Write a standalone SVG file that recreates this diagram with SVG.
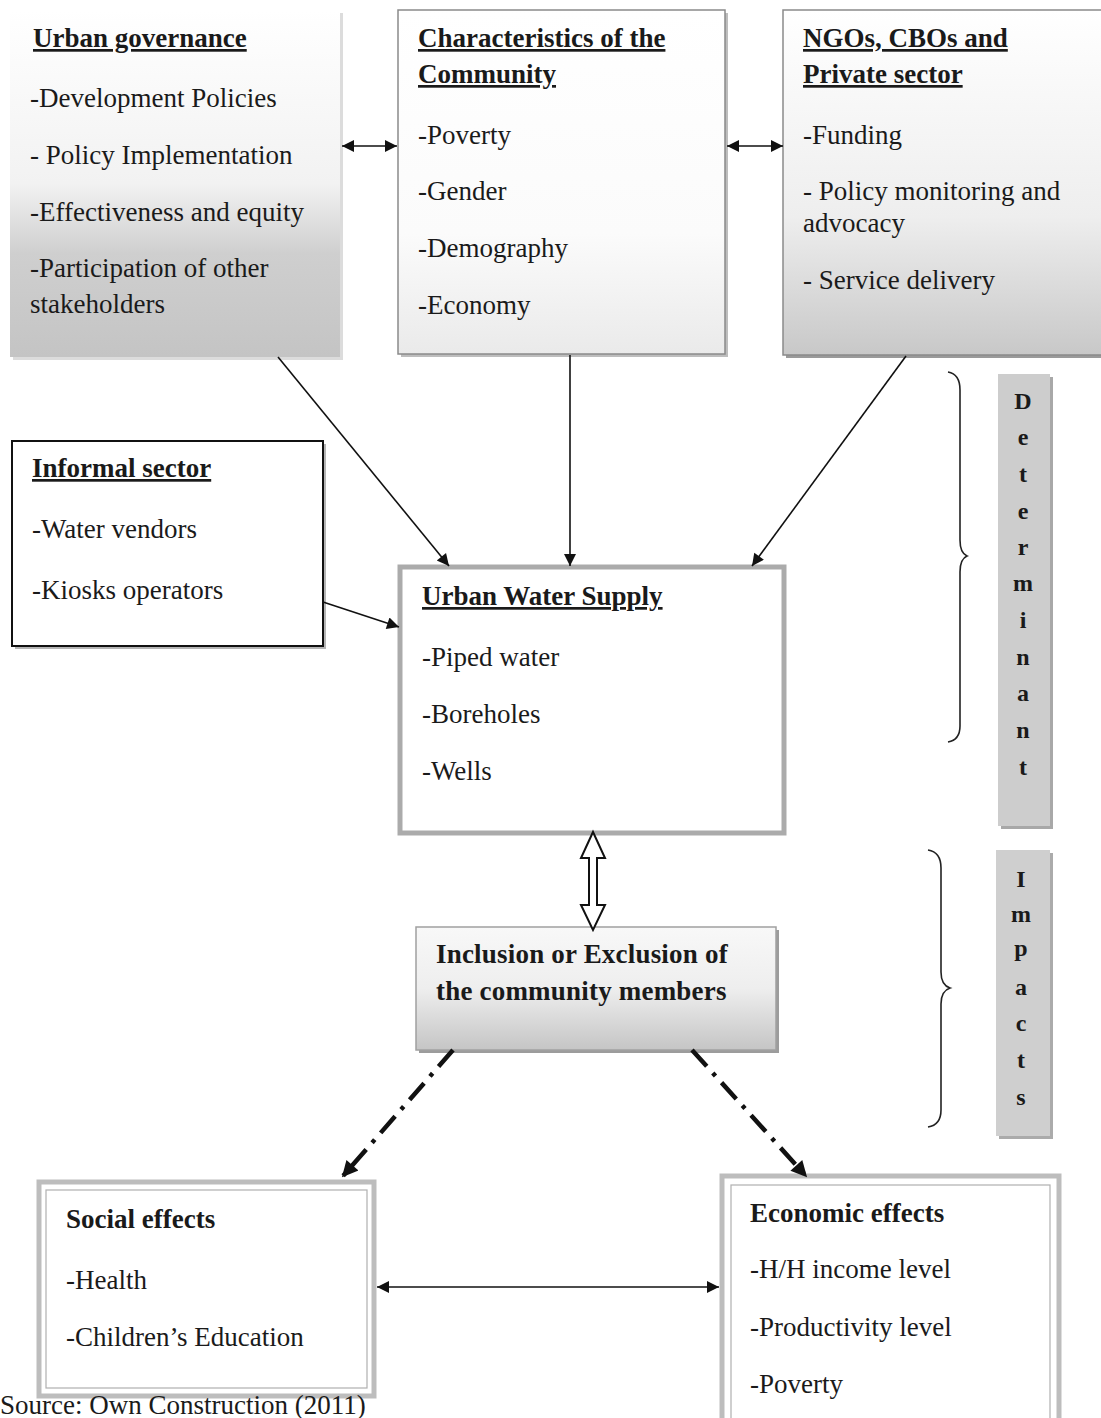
<svg xmlns="http://www.w3.org/2000/svg" width="1101" height="1418" viewBox="0 0 1101 1418">
<style>
text{font-family:"Liberation Serif","Times New Roman",serif;font-size:27px;fill:#1a1a1a}
.h{font-weight:bold;text-decoration:underline}
.b{font-weight:bold}
.v{font-weight:bold;font-size:24px;text-anchor:middle}
.c{stroke:#111;stroke-width:1.6;fill:none}
.dd{stroke:#111;stroke-width:4.5;fill:none;stroke-dasharray:22 9 4 9}
.br{stroke:#222;stroke-width:1.6;fill:none}
</style>
<defs>
<linearGradient id="gUG" x1="0" y1="0" x2="0" y2="1"><stop offset="0" stop-color="#ffffff"/><stop offset="0.5" stop-color="#f2f2f2"/><stop offset="0.7" stop-color="#cfcfcf"/><stop offset="1" stop-color="#c4c4c4"/></linearGradient>
<linearGradient id="gCH" x1="0" y1="0" x2="0" y2="1"><stop offset="0" stop-color="#ffffff"/><stop offset="0.65" stop-color="#fbfbfb"/><stop offset="1" stop-color="#eaeaea"/></linearGradient>
<linearGradient id="gNG" x1="0" y1="0" x2="0" y2="1"><stop offset="0" stop-color="#ffffff"/><stop offset="0.6" stop-color="#eeeeee"/><stop offset="1" stop-color="#c8c8c8"/></linearGradient>
<linearGradient id="gIN" x1="0" y1="0" x2="0" y2="1"><stop offset="0" stop-color="#f8f8f8"/><stop offset="0.5" stop-color="#eeeeee"/><stop offset="1" stop-color="#c5c5c5"/></linearGradient>
<marker id="ah" viewBox="0 0 10 10" refX="10" refY="5" markerWidth="16" markerHeight="12" markerUnits="userSpaceOnUse" orient="auto-start-reverse"><path d="M0,0 L10,5 L0,10 z" fill="#111"/></marker>
<marker id="ahb" viewBox="0 0 10 10" refX="9" refY="5" markerWidth="20" markerHeight="16" markerUnits="userSpaceOnUse" orient="auto"><path d="M0,0 L10,5 L0,10 z" fill="#111"/></marker>
</defs>
<rect width="1101" height="1418" fill="#ffffff"/>

<g id="urban-governance">
<rect x="13" y="13" width="330" height="347" fill="#dcdcdc"/>
<rect x="10" y="10" width="330" height="347" fill="url(#gUG)"/>
<text x="33" y="47" class="h">Urban governance</text>
<text x="30" y="107">-Development Policies</text>
<text x="30" y="164">- Policy Implementation</text>
<text x="30" y="221">-Effectiveness and equity</text>
<text x="30" y="277">-Participation of other</text>
<text x="30" y="313">stakeholders</text>
</g>

<g id="characteristics">
<rect x="401" y="13" width="327" height="344" fill="#bdbdbd"/>
<rect x="398" y="10" width="327" height="344" fill="url(#gCH)" stroke="#8a8a8a" stroke-width="1.5"/>
<text x="418" y="47" class="h">Characteristics of the</text>
<text x="418" y="83" class="h">Community</text>
<text x="418" y="144">-Poverty</text>
<text x="418" y="200">-Gender</text>
<text x="418" y="257">-Demography</text>
<text x="418" y="314">-Economy</text>
</g>

<g id="ngos">
<rect x="786" y="13" width="320" height="345" fill="#9a9a9a"/>
<rect x="783" y="10" width="320" height="345" fill="url(#gNG)" stroke="#8a8a8a" stroke-width="1.5"/>
<text x="803" y="47" class="h">NGOs, CBOs and</text>
<text x="803" y="83" class="h">Private sector</text>
<text x="803" y="144">-Funding</text>
<text x="803" y="200">- Policy monitoring and</text>
<text x="803" y="232">advocacy</text>
<text x="803" y="289">- Service delivery</text>
</g>

<g id="informal-sector">
<rect x="15" y="444" width="311" height="205" fill="#b5b5b5"/>
<rect x="12" y="441" width="311" height="205" fill="#ffffff" stroke="#111" stroke-width="2"/>
<text x="32" y="477" class="h">Informal sector</text>
<text x="32" y="538">-Water vendors</text>
<text x="32" y="599">-Kiosks operators</text>
</g>

<g id="urban-water-supply">
<rect x="400" y="567" width="384" height="266" fill="#ffffff" stroke="#ababab" stroke-width="5"/>
<text x="422" y="605" class="h">Urban Water Supply</text>
<text x="422" y="666">-Piped water</text>
<text x="422" y="723">-Boreholes</text>
<text x="422" y="780">-Wells</text>
</g>

<g id="determinant">
<rect x="1001" y="377" width="52" height="452" fill="#a8a8a8"/>
<rect x="998" y="374" width="52" height="452" fill="#cdcdcd"/>
<text x="1023" y="409" class="v">D</text>
<text x="1023" y="445" class="v">e</text>
<text x="1023" y="482" class="v">t</text>
<text x="1023" y="519" class="v">e</text>
<text x="1023" y="555" class="v">r</text>
<text x="1023" y="591" class="v">m</text>
<text x="1023" y="628" class="v">i</text>
<text x="1023" y="665" class="v">n</text>
<text x="1023" y="701" class="v">a</text>
<text x="1023" y="738" class="v">n</text>
<text x="1023" y="775" class="v">t</text>
</g>

<g id="impacts">
<rect x="999" y="853" width="54" height="286" fill="#ababab"/>
<rect x="996" y="850" width="54" height="286" fill="#cfcfcf"/>
<text x="1021" y="887" class="v">I</text>
<text x="1021" y="922" class="v">m</text>
<text x="1021" y="956" class="v">p</text>
<text x="1021" y="995" class="v">a</text>
<text x="1021" y="1031" class="v">c</text>
<text x="1021" y="1068" class="v">t</text>
<text x="1021" y="1105" class="v" font-weight="normal">s</text>
</g>

<g id="inclusion">
<rect x="419" y="930" width="360" height="123" fill="#9c9c9c"/>
<rect x="416" y="927" width="360" height="123" fill="url(#gIN)" stroke="#a0a0a0" stroke-width="1.5"/>
<text x="436" y="963" class="b" letter-spacing="0.2">Inclusion or Exclusion of</text>
<text x="436" y="1000" class="b" letter-spacing="0.2">the community members</text>
</g>

<g id="social-effects">
<rect x="39" y="1182" width="335" height="214" fill="#ffffff" stroke="#bdbdbd" stroke-width="5"/>
<rect x="46" y="1190" width="321" height="198" fill="none" stroke="#b0b0b0" stroke-width="1.2"/>
<text x="66" y="1228" class="b">Social effects</text>
<text x="66" y="1289">-Health</text>
<text x="66" y="1346">-Children’s Education</text>
</g>

<g id="economic-effects">
<rect x="722" y="1176" width="337" height="250" fill="#ffffff" stroke="#bdbdbd" stroke-width="5"/>
<rect x="731" y="1185" width="319" height="240" fill="none" stroke="#b0b0b0" stroke-width="1.2"/>
<text x="750" y="1222" class="b">Economic effects</text>
<text x="750" y="1278">-H/H income level</text>
<text x="750" y="1336">-Productivity level</text>
<text x="750" y="1393">-Poverty</text>
</g>

<g id="braces">
<path class="br" d="M948,372 Q960,374 960,390 L960,540 Q960,553 967,556 Q960,559 960,572 L960,726 Q960,740 948,742"/>
<path class="br" d="M928,850 Q941,852 941,868 L941,972 Q941,985 950,988 Q941,991 941,1004 L941,1110 Q941,1125 928,1127"/>
</g>

<g id="connectors">
<line class="c" x1="342" y1="146" x2="397" y2="146" marker-start="url(#ah)" marker-end="url(#ah)"/>
<line class="c" x1="727" y1="146" x2="783" y2="146" marker-start="url(#ah)" marker-end="url(#ah)"/>
<line class="c" x1="278" y1="357" x2="449" y2="566" marker-end="url(#ah)"/>
<line class="c" x1="570" y1="355" x2="570" y2="566" marker-end="url(#ah)"/>
<line class="c" x1="906" y1="356" x2="752" y2="566" marker-end="url(#ah)"/>
<line class="c" x1="323" y1="602" x2="399" y2="627" marker-end="url(#ah)"/>
<line class="c" x1="377" y1="1287" x2="719" y2="1287" marker-start="url(#ah)" marker-end="url(#ah)"/>
<path d="M593,832 L605,858 L597,858 L597,905 L605,905 L593,930 L581,905 L589,905 L589,858 L581,858 Z" fill="#ffffff" stroke="#111" stroke-width="2" stroke-linejoin="miter"/>
<line class="dd" x1="453" y1="1050" x2="343" y2="1176" marker-end="url(#ahb)"/>
<line class="dd" x1="692" y1="1050" x2="806" y2="1176" marker-end="url(#ahb)"/>
</g>

<text x="0" y="1414" font-size="25">Source: Own Construction (2011)</text>
</svg>
